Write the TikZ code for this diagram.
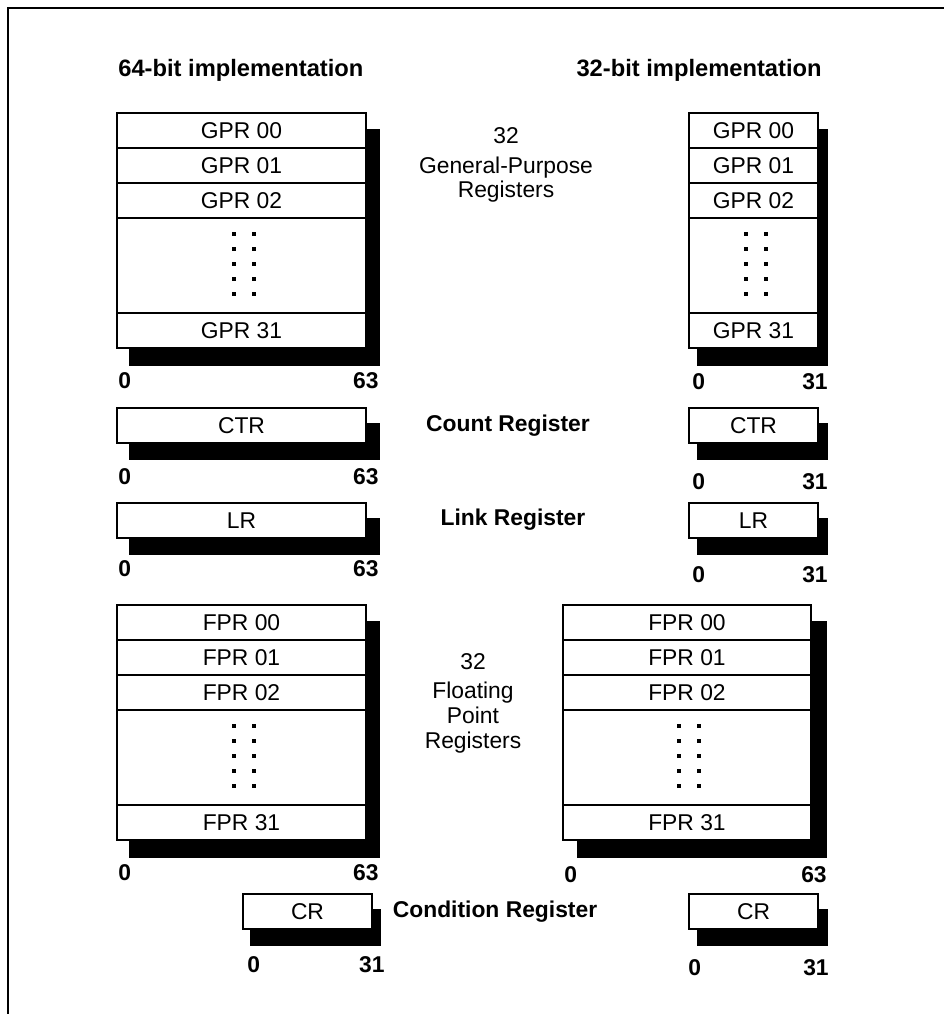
\documentclass[tikz,border=0pt]{standalone}
\usepackage{fontspec}
\setmainfont{Liberation Sans}
\usetikzlibrary{positioning, backgrounds}
\tikzset{
  px/.style={x=0.02cm, y=-0.02cm},
  cell/.style={
    draw=black, fill=white, line width=0.8pt, inner sep=0pt,
    minimum width=#1, minimum height=0.7cm, font=\fontsize{13}{15}\selectfont
  },
  cell/.default=4.98cm,
  shade/.style={fill=black, draw=none},
  bitlab/.style={font=\fontsize{13}{15}\selectfont\bfseries, inner sep=0pt},
  hdr/.style={font=\fontsize{13.5}{16}\selectfont\bfseries, inner sep=0pt},
  desc/.style={font=\fontsize{13}{14}\selectfont, align=center, inner sep=0pt},
  descb/.style={font=\fontsize{13}{14}\selectfont\bfseries, inner sep=0pt}
}
\begin{document}
\begin{tikzpicture}[px]
  \useasboundingbox (0,0) rectangle (944,1014);
  \draw[line width=1.1pt] (8,1014) -- (8,8) -- (944,8);

  \node[hdr, anchor=west] (h64) at (118,70) {64-bit implementation};
  \node[hdr, anchor=east] (h32) at (822,70) {32-bit implementation};

  % register files: name/prefix/x/width/top/shadow dx/0 at/high at/high bit/label y
  \foreach \nm/\pre/\xc/\w/\top/\dx/\lx/\rx/\hi/\ly in {
      g64/GPR/241.5/4.98cm/113/13/118/379/63/381,
      g32/GPR/753.5/2.58cm/113/9/692/828/31/382,
      f64/FPR/241.5/4.98cm/605/13/118/379/63/873,
      f32/FPR/687/4.96cm/605/15/564/827/63/875} {
    \node[cell=\w] (\nm-0) at (\xc,\top+17.5) {\pre\ 00};
    \node[cell=\w] (\nm-1) at (\xc,\top+52.5) {\pre\ 01};
    \node[cell=\w] (\nm-2) at (\xc,\top+87.5) {\pre\ 02};
    \node[cell=\w, minimum height=1.9cm] (\nm-dots) at (\xc,\top+152.5) {};
    \node[cell=\w] (\nm-31) at (\xc,\top+217.5) {\pre\ 31};
    \foreach \k in {0,...,4} {
      \fill (\xc-10,\top+118.5+15*\k) rectangle ++(4,4);
      \fill (\xc+10,\top+118.5+15*\k) rectangle ++(4,4);
    }
    \begin{pgfonlayer}{background}
      \fill[shade] ([shift={(\dx,17)}]\nm-0.north west) rectangle ([shift={(\dx,17)}]\nm-31.south east);
    \end{pgfonlayer}
    \node[bitlab, anchor=west] (\nm-lo) at (\lx,\ly) {0};
    \node[bitlab, anchor=east] (\nm-hi) at (\rx,\ly) {\hi};
  }

  % single registers
  \foreach \nm/\txt/\xc/\w/\yc/\dx/\lx/\rx/\hi/\ly in {
      ctr64/CTR/241.5/4.98cm/425.5/13/118/379/63/477,
      ctr32/CTR/753.5/2.58cm/425.5/9/692/828/31/482,
      lr64/LR/241.5/4.98cm/520.5/13/118/379/63/569,
      lr32/LR/753.5/2.58cm/520.5/9/692/828/31/575,
      cr64/CR/307.5/2.58cm/911.5/8/247/385/31/965,
      cr32/CR/753.5/2.58cm/911.5/9/688/829/31/968} {
    \node[cell=\w] (\nm) at (\xc,\yc) {\txt};
    \begin{pgfonlayer}{background}
      \fill[shade] ([shift={(\dx,16)}]\nm.north west) rectangle ([shift={(\dx,16)}]\nm.south east);
    \end{pgfonlayer}
    \node[bitlab, anchor=west] (\nm-lo) at (\lx,\ly) {0};
    \node[bitlab, anchor=east] (\nm-hi) at (\rx,\ly) {\hi};
  }

  \node[desc] (gprtxt) at (506,165) {32\\[3pt]General-Purpose\\Registers};
  \node[descb] (ctrtxt) at (508,426) {Count Register};
  \node[descb] (lrtxt) at (513,520) {Link Register};
  \node[desc] (fprtxt) at (473,703) {32\\[3pt]Floating\\Point\\Registers};
  \node[descb] (crtxt) at (495,912) {Condition Register};
\end{tikzpicture}
\end{document}
